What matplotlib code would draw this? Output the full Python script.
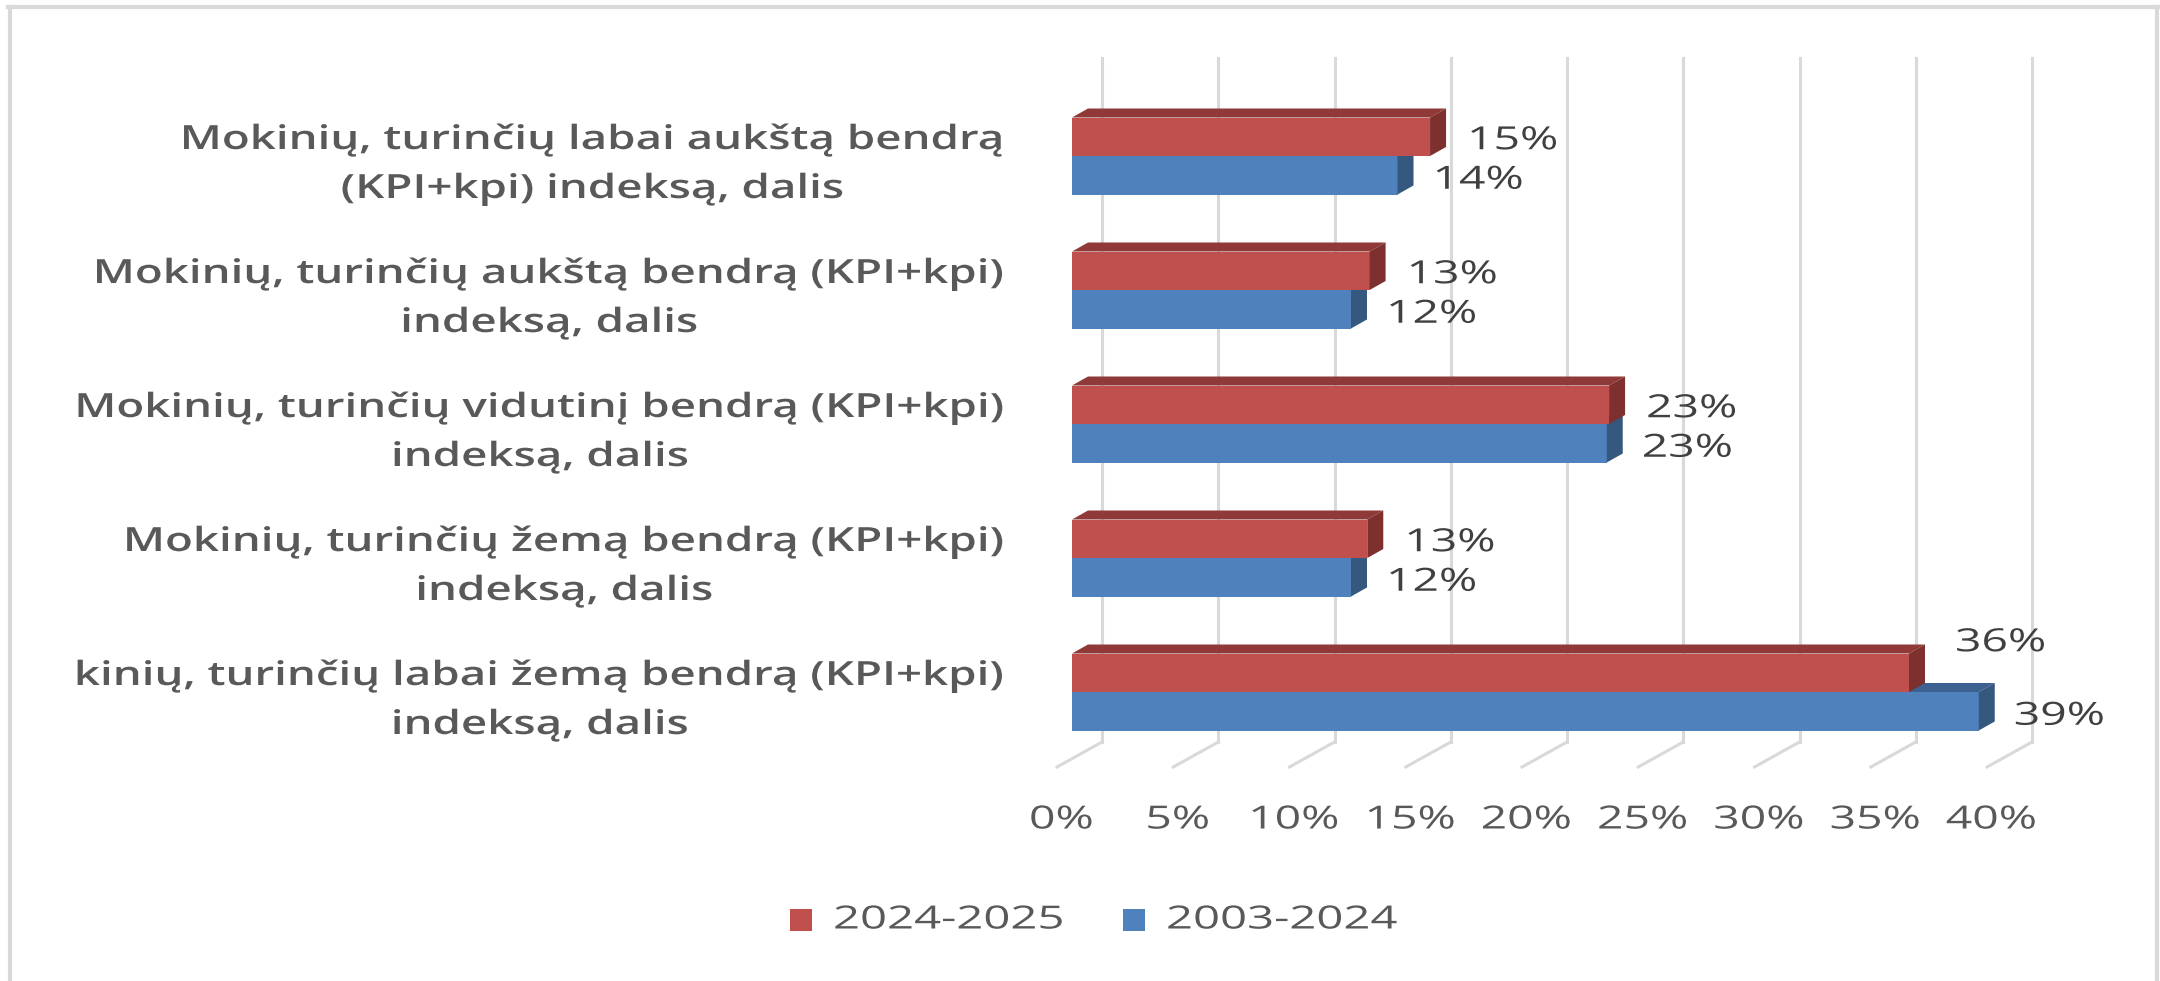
import matplotlib
matplotlib.use("Agg")
import matplotlib.pyplot as plt
from matplotlib.patches import Polygon, Rectangle
from matplotlib.lines import Line2D
from matplotlib.patheffects import AbstractPathEffect
from matplotlib.transforms import Affine2D

# =========================
# DATOS
# =========================
categorias = [
    "Mokinių, turinčių labai aukštą bendrą\n(KPI+kpi) indeksą, dalis",
    "Mokinių, turinčių aukštą bendrą (KPI+kpi)\nindeksą, dalis",
    "Mokinių, turinčių vidutinį bendrą (KPI+kpi)\nindeksą, dalis",
    "Mokinių, turinčių žemą bendrą (KPI+kpi)\nindeksą, dalis",
    "kinių, turinčių labai žemą bendrą (KPI+kpi)\nindeksą, dalis",
]
serie_2024_2025 = [15.4, 12.8, 23.1, 12.7, 36.0]
serie_2003_2024 = [14.0, 12.0, 23.0, 12.0, 39.0]
etiquetas_2024_2025 = ["15%", "13%", "23%", "13%", "36%"]
etiquetas_2003_2024 = ["14%", "12%", "23%", "12%", "39%"]
ticks_x = [0, 5, 10, 15, 20, 25, 30, 35, 40]
nombres_series = ["2024-2025", "2003-2024"]

# =========================
# ESTILO
# =========================
ROJO, ROJO_ARRIBA, ROJO_LADO = "#C0504D", "#8F3A38", "#7D302E"
AZUL, AZUL_ARRIBA, AZUL_LADO = "#4F81BD", "#3D6291", "#35587F"
GRIS_GRID = "#D9D9D9"
GRIS_TEXTO = "#595959"
GRIS_DATOS = "#404040"
FUENTE = ["Open Sans", "DejaVu Sans"]


class Estirar(AbstractPathEffect):
    """Ensancha el texto horizontalmente alrededor de su punto de anclaje."""

    def __init__(self, texto, sx):
        super().__init__()
        self.texto = texto
        self.sx = sx

    def draw_path(self, renderer, gc, tpath, affine, rgbFace=None):
        x0, _ = self.texto.get_transform().transform(self.texto.get_position())
        tr = affine + Affine2D().translate(-x0, 0).scale(self.sx, 1).translate(x0, 0)
        renderer.draw_path(gc, tpath, tr, rgbFace)


def estirar(texto, sx):
    texto.set_path_effects([Estirar(texto, sx)])
    return texto


W, H = 2160, 981
fig = plt.figure(figsize=(W / 100, H / 100), dpi=100)
ax = fig.add_axes([0, 0, 1, 1])

# escala: 0% en x=1072 px, 23.25 px por punto porcentual; grupos cada 134 px
px_x = 23.25
px_y = 134.0
ax.set_xlim(-1072 / px_x, (W - 1072) / px_x)
ax.set_ylim((H - 156) / px_y, -156 / px_y)
ax.axis("off")

alto = 38.5 / px_y
dx, dy = 16 / px_x, 9 / px_y          # profundidad de las barras
gx = 30 / px_x                         # desplazamiento de la pared del fondo
piso_atras = (742 - 156) / px_y
piso_frente = (767 - 156) / px_y
techo = (58 - 156) / px_y

# =========================
# CUADRICULA (pared y piso)
# =========================
for t in ticks_x:
    xb = t + gx
    xf = t - 15 / px_x
    ax.plot([xb, xb], [techo, piso_atras], color=GRIS_GRID, lw=2.2, zorder=1)
    ax.plot([xb, xf], [piso_atras, piso_frente], color=GRIS_GRID, lw=2.2, zorder=1)
    estirar(ax.text(t - 0.45, (820 - 156) / px_y, f"{t}%", ha="center", va="center",
                    fontsize=23, color=GRIS_TEXTO, family=FUENTE), 1.45)


def barra_3d(y0, valor, c_frente, c_arriba, c_lado):
    ax.barh(y0, valor, height=alto, left=0, align="edge", color=c_frente,
            edgecolor="none", zorder=3)
    arriba = [(0, y0), (dx, y0 - dy), (valor + dx, y0 - dy), (valor, y0)]
    lado = [(valor, y0), (valor + dx, y0 - dy), (valor + dx, y0 + alto - dy), (valor, y0 + alto)]
    ax.add_patch(Polygon(arriba, closed=True, color=c_arriba, lw=0, zorder=3))
    ax.add_patch(Polygon(lado, closed=True, color=c_lado, lw=0, zorder=3))


# =========================
# BARRAS
# =========================
for i, cat in enumerate(categorias):
    v_r = serie_2024_2025[i]
    v_a = serie_2003_2024[i]
    barra_3d(i, v_a, AZUL, AZUL_ARRIBA, AZUL_LADO)
    barra_3d(i - alto, v_r, ROJO, ROJO_ARRIBA, ROJO_LADO)

    # etiquetas de datos
    y_r = i - alto / 2 + 4 / px_y
    x_r = v_r + 37 / px_x
    if v_a > v_r:
        # la barra azul es mas larga: la etiqueta sube
        y_r = i - alto / 2 - 30 / px_y
        x_r = v_r + 46 / px_x
    estirar(ax.text(x_r, y_r, etiquetas_2024_2025[i], ha="left", va="center",
                    fontsize=23, color=GRIS_DATOS, family=FUENTE, zorder=5), 1.45)
    estirar(ax.text(v_a + 35 / px_x, i + alto / 2 + 5 / px_y, etiquetas_2003_2024[i],
                    ha="left", va="center", fontsize=23, color=GRIS_DATOS,
                    family=FUENTE, zorder=5), 1.45)

    # etiqueta de categoria
    estirar(ax.text((1006 - 1072) / px_x, i + 9 / px_y, cat, ha="right", va="center",
                    multialignment="center", fontsize=24, fontweight="semibold",
                    color=GRIS_TEXTO, family=FUENTE, linespacing=1.64), 1.37)

# =========================
# LEYENDA
# =========================
colores_leyenda = [ROJO, AZUL]
x_cuadros = [790, 1123]
lado_cuadro = 22
y_leyenda = 920
for nombre, color, xc in zip(nombres_series, colores_leyenda, x_cuadros):
    fig.add_artist(Rectangle((xc / W, 1 - (y_leyenda + lado_cuadro / 2) / H),
                             lado_cuadro / W, lado_cuadro / H,
                             transform=fig.transFigure, facecolor=color, edgecolor="none"))
    estirar(fig.text((xc + 43) / W, 1 - y_leyenda / H, nombre, ha="left", va="center",
                     fontsize=23, color=GRIS_TEXTO, family=FUENTE), 1.48)

# =========================
# MARCO
# =========================
marco = dict(color="#D9D9D9", lw=3, transform=fig.transFigure, zorder=10)
fig.add_artist(Line2D([8 / W, 1], [1 - 7 / H, 1 - 7 / H], **marco))
fig.add_artist(Line2D([10 / W, 10 / W], [0, 1 - 7 / H], **marco))
fig.add_artist(Line2D([2157 / W, 2157 / W], [0, 1 - 7 / H], **marco))

fig.savefig("out.png", dpi=100, facecolor="white")
plt.close(fig)
